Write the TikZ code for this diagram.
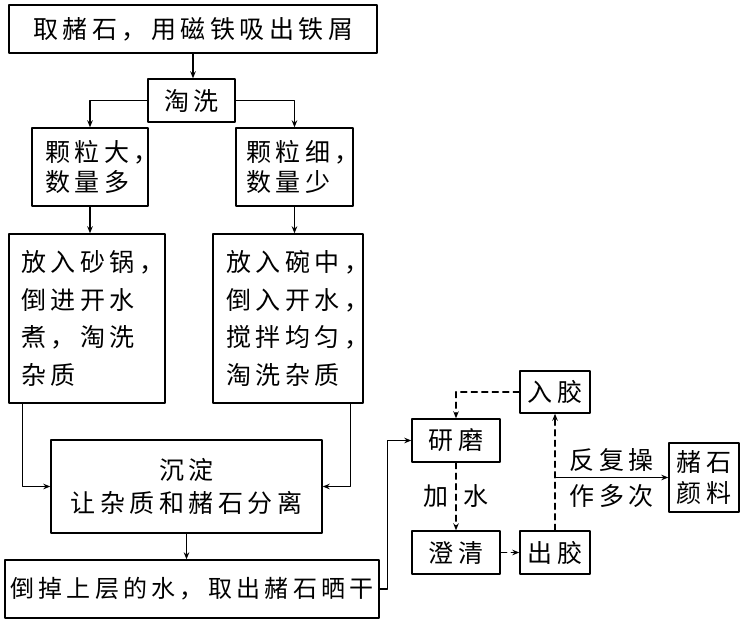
\documentclass[tikz,border=0pt]{standalone}
\usepackage{fontspec}
\usetikzlibrary{arrows.meta}
\setmainfont{Noto Sans CJK SC}[LetterSpace=18]
\begin{document}
\begin{tikzpicture}[line join = round, line cap = round,>={Stealth[length=7pt,width=5.5pt]},x=1pt,y=-1pt,line width=1.4pt]
			\tikzset{hop/.style={draw,inner sep=0pt,font=\fontsize{25}{30}\selectfont},
				net-dut/.style={dash pattern=on 6pt off 4.5pt}}
			\useasboundingbox(0,0)rectangle(749,626);
			\node[hop,minimum width=368,minimum height=48](lay) at (193,29){取赭石，用磁铁吸出铁屑};
			\node[hop,minimum width=87,minimum height=43](dai) at (191.5,100.5){淘洗};
			\node[hop,minimum width=116,minimum height=78,text width=90,align=left](to) at (90,167){颗粒大，\\数量多};
			\node[hop,minimum width=117,minimum height=78,text width=97,align=left](nho) at (294.5,167){颗粒细，\\数量少};
			\node[hop,minimum width=156,minimum height=169,text width=132,align=left,font=\fontsize{25}{37.7}\selectfont](soi) at (87,318.5){放入砂锅，\\倒进开水\\煮，淘洗\\杂质};
			\node[hop,minimum width=150,minimum height=169,text width=124,align=left,font=\fontsize{25}{37.7}\selectfont](bat) at (288,318.5){放入碗中，\\倒入开水，\\搅拌均匀，\\淘洗杂质};
			\node[hop,minimum width=271,minimum height=93,align=center,font=\fontsize{25}{33}\selectfont](lang) at (186.5,486.5){沉淀\\让杂质和赭石分离};
			\node[hop,minimum width=374,minimum height=58,font=\fontsize{24}{30}\selectfont](phoi) at (192,589){倒掉上层的水，取出赭石晒干};
			\node[hop,minimum width=88,minimum height=43](mai) at (456,440.5){研磨};
			\node[hop,minimum width=70,minimum height=42](keo) at (555,392){入胶};
			\node[hop,minimum width=88,minimum height=43](trong) at (456,552.5){澄清};
			\node[hop,minimum width=70,minimum height=43](ra) at (555,552.5){出胶};
			\node[hop,minimum width=70,minimum height=69,align=center,font=\fontsize{25}{31}\selectfont](mau) at (704,477.5){赭石\\颜料};
			\coordinate(lap) at (ra.north|-mau.west);
			% nhanh trai
			\draw[->](lay)--(lay|-dai.north);
			\draw[->](dai.west)-|(to.north);
			\draw[->](dai.east)-|(nho.north);
			\draw[->](to.south)--(to.south|-soi.north);
			\draw[->](nho.south)--(nho.south|-bat.north);
			\draw[->]([xshift=14]soi.south west)|-(lang.west);
			\draw[->]([xshift=-13]bat.south east)|-(lang.east);
			\draw[->](lang)--(lang|-phoi.north);
			% nhanh phai
			\draw[->](phoi.east)--++(8,0)|-(mai.west);
			\draw[->,net-dut](keo.west)-|(mai.north);
			\draw[->,net-dut](mai)--node[left,xshift=-3]{\fontsize{25}{30}\selectfont 加}node[right,xshift=3]{\fontsize{25}{30}\selectfont 水}(trong);
			\draw[->,net-dut](trong)--(ra);
			\draw[->,net-dut](ra)--(keo);
			\draw[->](lap)--node[above=2pt]{\fontsize{25}{30}\selectfont 反复操}node[below=3pt]{\fontsize{25}{30}\selectfont 作多次}(mau.west);
		\end{tikzpicture}
\end{document}
